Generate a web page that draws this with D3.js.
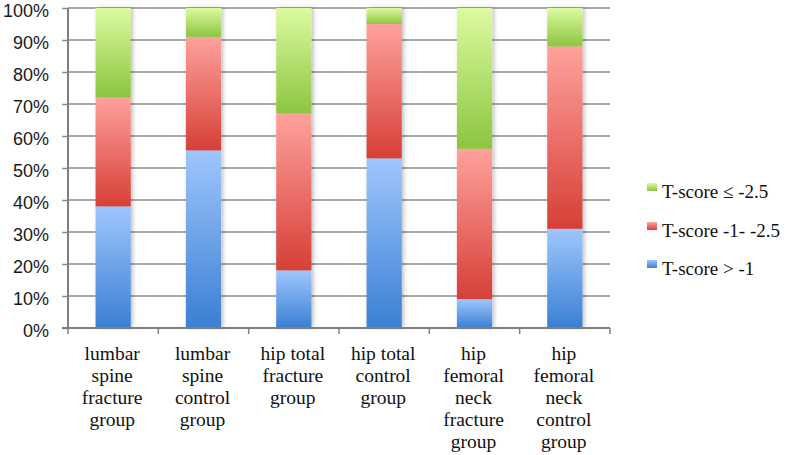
<!DOCTYPE html>
<html>
<head>
<meta charset="utf-8">
<script src="https://cdn.jsdelivr.net/npm/d3@7"></script>
<style>
  body { margin: 0; background: #fff; }
  svg { display: block; }
</style>
</head>
<body>
<svg id="chart" width="787" height="455"></svg>
<script>
// data (percent of group)
var categories = [
    ["lumbar", "spine", "fracture", "group"],
    ["lumbar", "spine", "control", "group"],
    ["hip total", "fracture", "group"],
    ["hip total", "control", "group"],
    ["hip", "femoral", "neck", "fracture", "group"],
    ["hip", "femoral", "neck", "control", "group"]
];
var seriesNames = ["T-score > -1", "T-score -1- -2.5", "T-score \u2264 -2.5"];
var above1 = [38, 55.5, 18, 53, 9, 31];
var between = [34, 35.5, 49, 42, 47, 57];
var below25 = [28, 9, 33, 5, 44, 12];
var yTicks = [0, 10, 20, 30, 40, 50, 60, 70, 80, 90, 100];

var colors = [
    {top: "#9fc6fd", bottom: "#3a7fd3"},
    {top: "#ffa19c", bottom: "#d63f37"},
    {top: "#dcfba0", bottom: "#8cc53f"}
];

var svg = d3.select("#chart"),
    plotLeft = 68, plotRight = 610, plotTop = 8, plotBottom = 328;

var x = d3.scaleBand()
    .domain(d3.range(categories.length))
    .range([plotLeft, plotRight])
    .paddingInner(0.61)
    .paddingOuter(0.305);

var y = d3.scaleLinear().domain([0, 100]).range([plotBottom, plotTop]);

var defs = svg.append("defs");
colors.forEach(function(c, i){
    var g = defs.append("linearGradient")
        .attr("id", "grad" + i)
        .attr("x1", 0).attr("y1", 0).attr("x2", 0).attr("y2", 1);
    g.append("stop").attr("offset", "0%").attr("stop-color", c.top);
    g.append("stop").attr("offset", "100%").attr("stop-color", c.bottom);
});
defs.append("filter").attr("id", "shadow")
    .attr("x", "-20%").attr("width", "150%")
    .append("feDropShadow")
    .attr("dx", 2).attr("dy", 0).attr("stdDeviation", 2)
    .attr("flood-color", "#000").attr("flood-opacity", 0.25);

// grid lines
svg.append("g").selectAll("line")
    .data(yTicks.slice(1))
    .join("line")
    .attr("x1", plotLeft).attr("x2", plotRight)
    .attr("y1", function(d){ return y(d); })
    .attr("y2", function(d){ return y(d); })
    .attr("stroke", "#8c8c8c")
    .attr("stroke-width", 1.5);

// stacked bars
var rows = categories.map(function(c, i){
    return {i: i, a: above1[i], b: between[i], c: below25[i]};
});
var stack = d3.stack().keys(["a", "b", "c"]);
var layers = stack(rows);

svg.append("g").attr("filter", "url(#shadow)")
    .selectAll("g")
    .data(layers)
    .join("g")
    .attr("fill", function(d, i){ return "url(#grad" + i + ")"; })
    .selectAll("rect")
    .data(function(d){ return d; })
    .join("rect")
    .attr("x", function(d){ return x(d.data.i); })
    .attr("width", x.bandwidth())
    .attr("y", function(d){ return y(d[1]); })
    .attr("height", function(d){ return y(d[0]) - y(d[1]); });

// axes
var yAxis = svg.append("g")
    .attr("transform", "translate(" + plotLeft + ",0)")
    .call(d3.axisLeft(y).tickValues(yTicks).tickSize(6).tickPadding(13)
        .tickFormat(function(d){ return d + "%"; }));
yAxis.select(".domain").remove();
yAxis.selectAll(".tick line").attr("stroke", "#8c8c8c").attr("stroke-width", 1.5);
yAxis.selectAll("text")
    .attr("dy", "0.47em")
    .attr("font-family", "Liberation Sans, Arial, sans-serif")
    .attr("font-size", 18)
    .attr("fill", "#1a1a1a");

svg.append("line")
    .attr("x1", plotLeft).attr("x2", plotLeft)
    .attr("y1", plotTop).attr("y2", plotBottom)
    .attr("stroke", "#7f7f7f").attr("stroke-width", 2);

var xTickPos = d3.range(categories.length + 1).map(function(i){
    return plotLeft + (plotRight - plotLeft) * i / categories.length;
});
svg.append("line")
    .attr("x1", plotLeft - 6).attr("x2", plotRight)
    .attr("y1", plotBottom).attr("y2", plotBottom)
    .attr("stroke", "#7f7f7f").attr("stroke-width", 2);
svg.append("g").selectAll("line")
    .data(xTickPos)
    .join("line")
    .attr("x1", function(d){ return d; })
    .attr("x2", function(d){ return d; })
    .attr("y1", plotBottom).attr("y2", plotBottom + 6)
    .attr("stroke", "#7f7f7f").attr("stroke-width", 1.5);

// category labels
var labels = svg.append("g").selectAll("g")
    .data(categories)
    .join("g")
    .attr("transform", function(d, i){
        return "translate(" + (x(i) + x.bandwidth() / 2 - 1) + ",360)";
    });
labels.append("text")
    .attr("text-anchor", "middle")
    .attr("font-family", "'Liberation Serif', 'Times New Roman', serif")
    .attr("font-size", 19.5)
    .attr("fill", "#111")
    .selectAll("tspan")
    .data(function(d){ return d; })
    .join("tspan")
    .attr("x", 0)
    .attr("y", function(d, j){ return j * 22; })
    .text(function(d){ return d; });

// legend (top entry is the last series)
var legendY = [198, 237, 275];
var legend = svg.append("g").selectAll("g")
    .data([2, 1, 0])
    .join("g")
    .attr("transform", function(d, k){ return "translate(647," + legendY[k] + ")"; });
legend.append("rect")
    .attr("x", 0).attr("y", -15)
    .attr("width", 10).attr("height", 8)
    .attr("fill", function(d){ return "url(#grad" + d + ")"; });
legend.append("text")
    .attr("x", 15).attr("y", 0)
    .attr("font-family", "'Liberation Serif', 'Times New Roman', serif")
    .attr("font-size", 19)
    .attr("fill", "#111")
    .text(function(d){ return seriesNames[d]; });
</script>
</body>
</html>
